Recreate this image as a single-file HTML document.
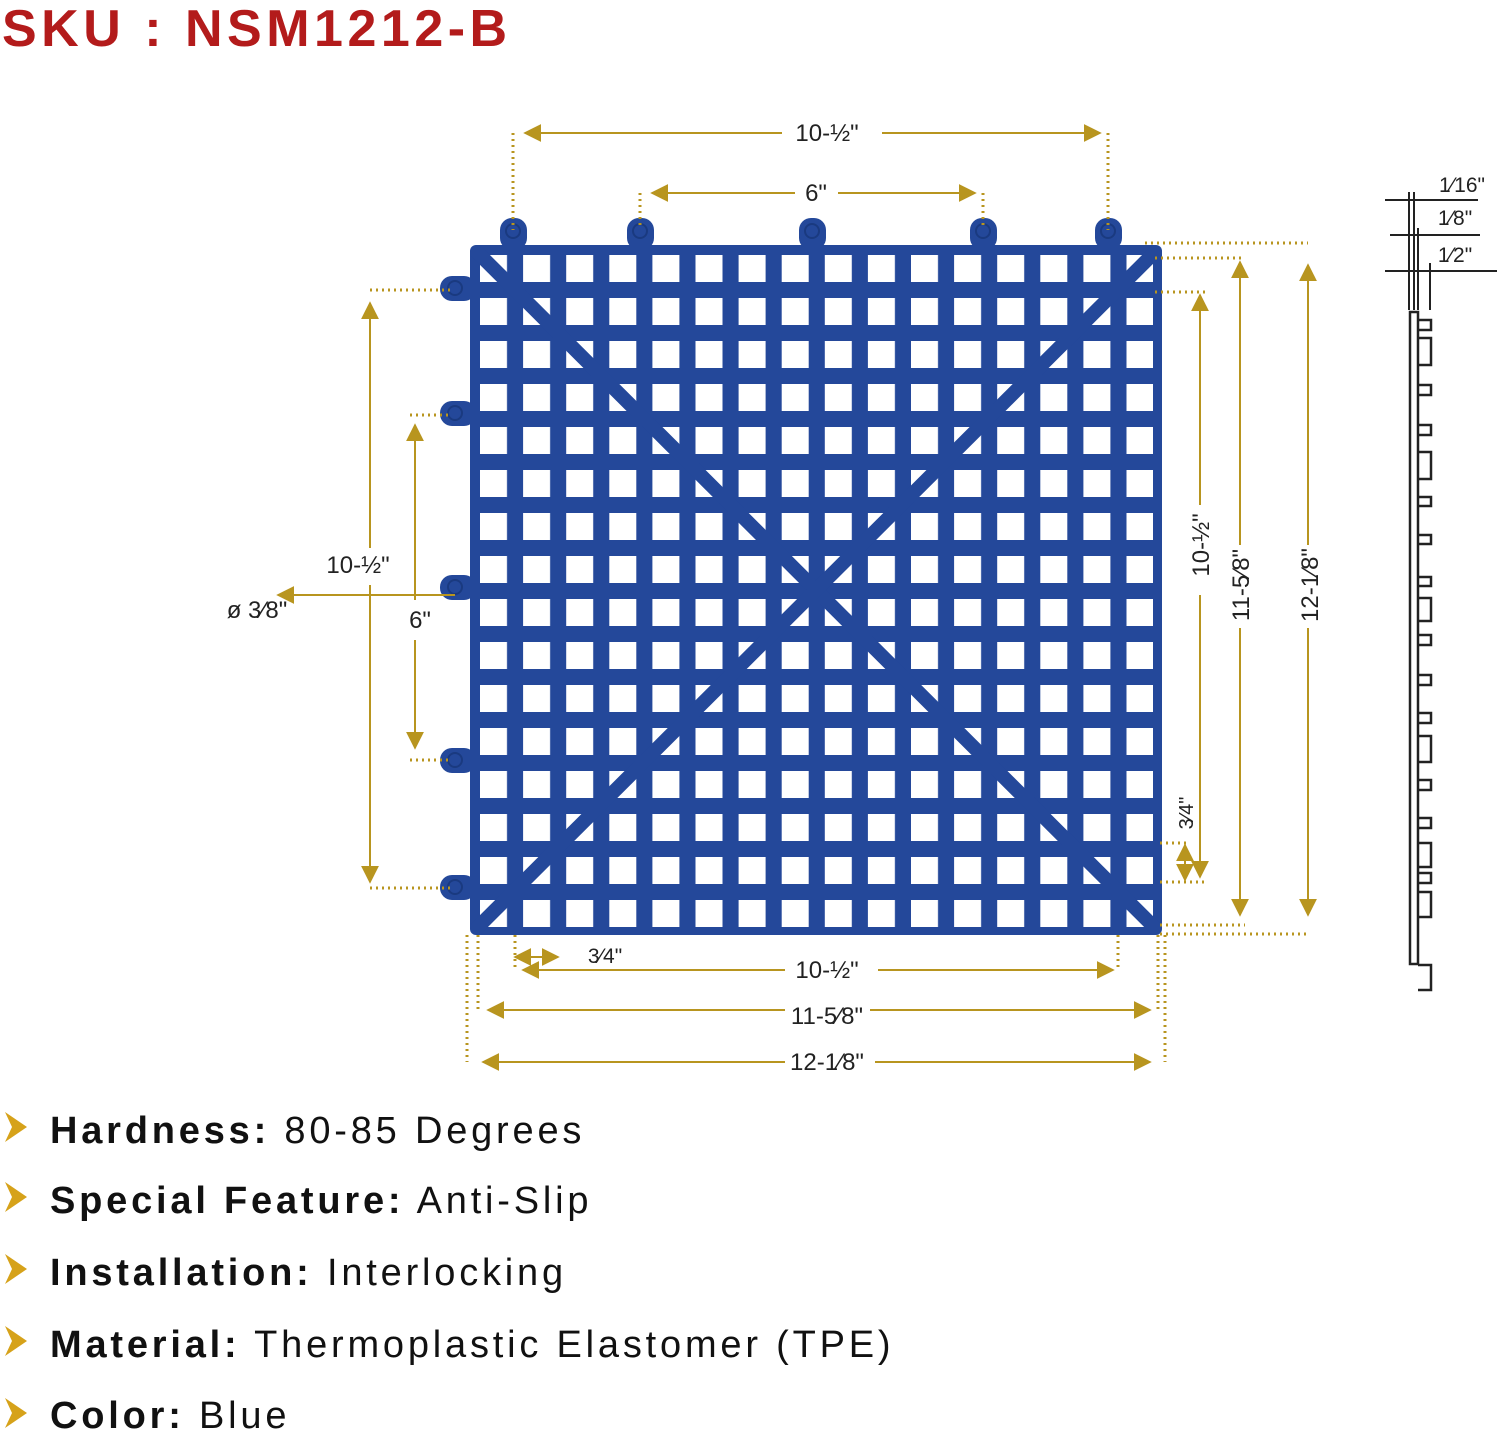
<!DOCTYPE html>
<html><head><meta charset="utf-8"><style>
body{margin:0;background:#fff;width:1500px;height:1435px;overflow:hidden;font-family:"Liberation Sans",sans-serif}
svg{position:absolute;left:0;top:0}
</style></head><body>
<svg width="1500" height="1435" viewBox="0 0 1500 1435" xmlns="http://www.w3.org/2000/svg">
<defs>
<marker id="a" viewBox="0 0 10 10" refX="9" refY="5" markerWidth="9" markerHeight="9" orient="auto-start-reverse"><path d="M0,0 L10,5 L0,10 Z" fill="#b8951f"/></marker>
<pattern id="p" x="480" y="255" width="43.1" height="43" patternUnits="userSpaceOnUse"><rect x="0" y="0" width="27" height="27" fill="#fff"/></pattern>
</defs>
<text x="2" y="46" font-size="52" font-weight="bold" fill="#b31b1b" letter-spacing="4.5">SKU : NSM1212-B</text>

<!-- tabs -->
<g fill="#24489a">
<rect x="500" y="218" width="27" height="32" rx="12"/><rect x="627" y="218" width="27" height="32" rx="12"/>
<rect x="799" y="218" width="27" height="32" rx="12"/><rect x="970" y="218" width="27" height="32" rx="12"/>
<rect x="1095" y="218" width="27" height="32" rx="12"/>
<rect x="440" y="276" width="36" height="25" rx="12"/><rect x="440" y="401" width="36" height="25" rx="12"/>
<rect x="440" y="575" width="36" height="25" rx="12"/><rect x="440" y="748" width="36" height="25" rx="12"/>
<rect x="440" y="875" width="36" height="25" rx="12"/>
<rect x="470" y="245" width="692" height="690" rx="6"/>
</g>
<rect x="480" y="255" width="673" height="672" fill="url(#p)"/>
<g stroke="#24489a" stroke-width="14">
<line x1="476" y1="251" x2="1156" y2="929"/><line x1="1156" y1="251" x2="476" y2="929"/>
</g>
<g fill="none" stroke="#1a3a80" stroke-width="2">
<circle cx="513" cy="231" r="7"/><circle cx="640" cy="231" r="7"/><circle cx="812" cy="231" r="7"/><circle cx="983" cy="231" r="7"/><circle cx="1108" cy="231" r="7"/>
<circle cx="455" cy="288" r="7"/><circle cx="455" cy="413" r="7"/><circle cx="455" cy="587" r="7"/><circle cx="455" cy="760" r="7"/><circle cx="455" cy="887" r="7"/>
</g>

<!-- dimension lines -->
<g stroke="#b8951f" stroke-width="2" fill="none">
<line x1="525" y1="133" x2="782" y2="133" marker-start="url(#a)"/><line x1="882" y1="133" x2="1100" y2="133" marker-end="url(#a)"/>
<line x1="652" y1="193" x2="795" y2="193" marker-start="url(#a)"/><line x1="838" y1="193" x2="975" y2="193" marker-end="url(#a)"/>
<line x1="370" y1="303" x2="370" y2="548" marker-start="url(#a)"/><line x1="370" y1="585" x2="370" y2="882" marker-end="url(#a)"/>
<line x1="415" y1="425" x2="415" y2="600" marker-start="url(#a)"/><line x1="415" y1="640" x2="415" y2="748" marker-end="url(#a)"/>
<line x1="278" y1="595" x2="455" y2="595" marker-start="url(#a)"/>
<line x1="1200" y1="295" x2="1200" y2="505" marker-start="url(#a)"/><line x1="1200" y1="595" x2="1200" y2="877" marker-end="url(#a)"/>
<line x1="1240" y1="262" x2="1240" y2="545" marker-start="url(#a)"/><line x1="1240" y1="628" x2="1240" y2="915" marker-end="url(#a)"/>
<line x1="1308" y1="265" x2="1308" y2="545" marker-start="url(#a)"/><line x1="1308" y1="628" x2="1308" y2="915" marker-end="url(#a)"/>
<line x1="1185" y1="845" x2="1185" y2="880" marker-start="url(#a)" marker-end="url(#a)"/>
<line x1="515" y1="957" x2="558" y2="957" marker-start="url(#a)" marker-end="url(#a)"/>
<line x1="523" y1="970" x2="785" y2="970" marker-start="url(#a)"/><line x1="878" y1="970" x2="1113" y2="970" marker-end="url(#a)"/>
<line x1="488" y1="1010" x2="785" y2="1010" marker-start="url(#a)"/><line x1="870" y1="1010" x2="1150" y2="1010" marker-end="url(#a)"/>
<line x1="483" y1="1062" x2="785" y2="1062" marker-start="url(#a)"/><line x1="875" y1="1062" x2="1150" y2="1062" marker-end="url(#a)"/>
</g>
<g stroke="#b8951f" stroke-width="3" stroke-dasharray="2 4" fill="none">
<line x1="513" y1="133" x2="513" y2="230"/><line x1="1108" y1="133" x2="1108" y2="230"/>
<line x1="640" y1="193" x2="640" y2="228"/><line x1="983" y1="193" x2="983" y2="228"/>
<line x1="370" y1="290" x2="452" y2="290"/><line x1="370" y1="888" x2="452" y2="888"/>
<line x1="410" y1="415" x2="452" y2="415"/><line x1="410" y1="760" x2="452" y2="760"/>
<line x1="1155" y1="292" x2="1205" y2="292"/><line x1="1160" y1="882" x2="1205" y2="882"/>
<line x1="1155" y1="258" x2="1245" y2="258"/><line x1="1160" y1="925" x2="1245" y2="925"/>
<line x1="1145" y1="243" x2="1308" y2="243"/><line x1="1160" y1="934" x2="1308" y2="934"/>
<line x1="1160" y1="843" x2="1190" y2="843"/>
<line x1="515" y1="935" x2="515" y2="970"/><line x1="1118" y1="935" x2="1118" y2="970"/>
<line x1="478" y1="935" x2="478" y2="1012"/><line x1="1158" y1="935" x2="1158" y2="1012"/>
<line x1="467" y1="935" x2="467" y2="1062"/><line x1="1165" y1="935" x2="1165" y2="1062"/>
</g>
<g font-size="24" fill="#222" text-anchor="middle">
<text x="827" y="141">10-½"</text><text x="816" y="201">6"</text>
<text x="358" y="573">10-½"</text><text x="420" y="628">6"</text>
<text x="257" y="618">ø 3⁄8"</text>
<text x="605" y="963" font-size="21">3⁄4"</text>
<text x="827" y="978">10-½"</text><text x="827" y="1024">11-5⁄8"</text><text x="827" y="1070">12-1⁄8"</text>
<text transform="translate(1209,545) rotate(-90)">10-½"</text>
<text transform="translate(1249,585) rotate(-90)">11-5⁄8"</text>
<text transform="translate(1318,585) rotate(-90)">12-1⁄8"</text>
<text transform="translate(1193,813) rotate(-90)" font-size="20">3⁄4"</text>
<text x="1462" y="192" font-size="21">1⁄16"</text><text x="1455" y="225" font-size="21">1⁄8"</text><text x="1455" y="262" font-size="21">1⁄2"</text>
</g>

<!-- side profile -->
<g stroke="#222" stroke-width="2" fill="none">
<line x1="1385" y1="200" x2="1478" y2="200" /><line x1="1390" y1="235" x2="1480" y2="235"/><line x1="1385" y1="271" x2="1497" y2="271"/>
<line x1="1409" y1="192" x2="1409" y2="310"/><line x1="1414" y1="192" x2="1414" y2="310"/>
<line x1="1418" y1="228" x2="1418" y2="310"/><line x1="1430" y1="263" x2="1430" y2="310"/>
<rect x="1410" y="312" width="8" height="652" stroke-width="2.5"/>
<path d="M1418 320h13v10h-13M1418 338h13v27h-13M1418 385h13v10h-13M1418 425h13v10h-13M1418 452h13v27h-13M1418 497h13v9h-13M1418 535h13v9h-13M1418 577h13v9h-13M1418 598h13v23h-13M1418 635h13v10h-13M1418 675h13v10h-13M1418 713h13v10h-13M1418 736h13v26h-13M1418 780h13v10h-13M1418 818h13v10h-13M1418 843h13v24h-13M1418 873h13v10h-13M1418 892h13v25h-13M1418 965h13v25h-13" stroke-width="2.5"/>
</g>

<!-- bullets -->
<g fill="#d6a21a">
<path d="M5 1112 L27 1127 L5 1142 L12 1127Z"/><path d="M5 1182 L27 1197 L5 1212 L12 1197Z"/>
<path d="M5 1254 L27 1269 L5 1284 L12 1269Z"/><path d="M5 1326 L27 1341 L5 1356 L12 1341Z"/>
<path d="M5 1398 L27 1413 L5 1428 L12 1413Z"/>
</g>
<g font-size="38" fill="#111" letter-spacing="3.8">
<text x="50" y="1143"><tspan font-weight="bold">Hardness:</tspan> 80-85 Degrees</text>
<text x="50" y="1213"><tspan font-weight="bold">Special Feature:</tspan> Anti-Slip</text>
<text x="50" y="1285"><tspan font-weight="bold">Installation:</tspan> Interlocking</text>
<text x="50" y="1357"><tspan font-weight="bold">Material:</tspan> Thermoplastic Elastomer (TPE)</text>
<text x="50" y="1428"><tspan font-weight="bold">Color:</tspan> Blue</text>
</g>
</svg>
</body></html>
